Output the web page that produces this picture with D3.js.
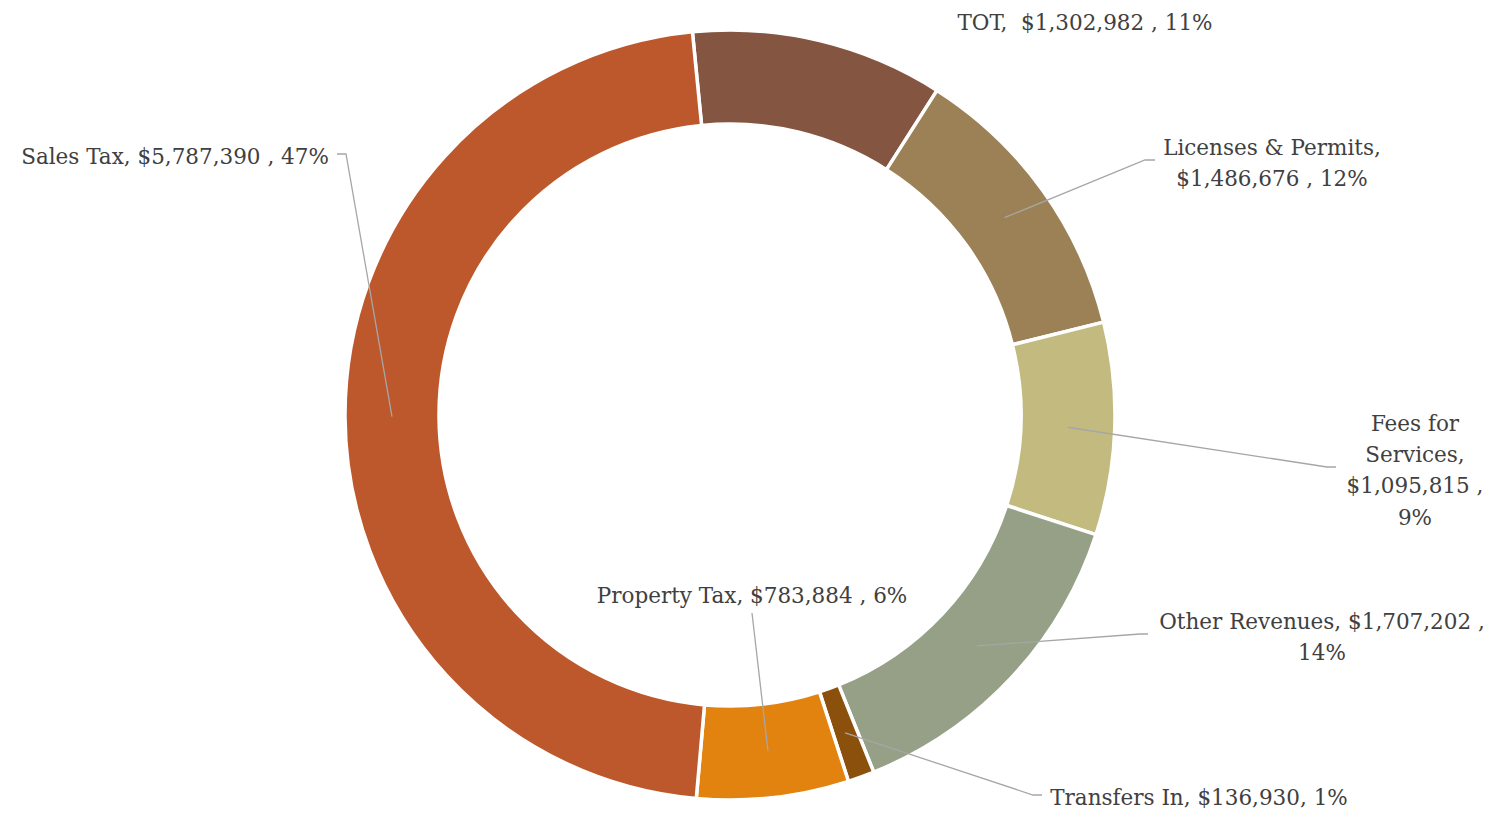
<!DOCTYPE html>
<html>
<head>
<meta charset="utf-8">
<script src="https://cdn.jsdelivr.net/npm/d3@7"></script>
<style>
  html, body { margin: 0; padding: 0; background: #fff; }
  svg { display: block; }
  text { white-space: pre; }
</style>
</head>
<body>
<svg id="chart" width="1501" height="817"></svg>
<script>
// ---- data ----
const categories = ["TOT", "Licenses & Permits", "Fees for Services", "Other Revenues", "Transfers In", "Property Tax", "Sales Tax"];
const values = [1302982, 1486676, 1095815, 1707202, 136930, 783884, 5787390];
const valueLabels = ["$1,302,982 ", "$1,486,676 ", "$1,095,815 ", "$1,707,202 ", "$136,930", "$783,884 ", "$5,787,390 "];
const percentLabels = ["11%", "12%", "9%", "14%", "1%", "6%", "47%"];
const colors = ["#845541", "#9B8155", "#C3BA80", "#95A087", "#8B500B", "#E3830F", "#BC582C"];

// label text lines (as in the original layout)
const labelLines = [
  ["TOT,  $1,302,982 , 11%"],
  ["Licenses & Permits,", "$1,486,676 , 12%"],
  ["Fees for", "Services,", "$1,095,815 ,", "9%"],
  ["Other Revenues, $1,707,202 ,", "14%"],
  ["Transfers In, $136,930, 1%"],
  ["Property Tax, $783,884 , 6%"],
  ["Sales Tax, $5,787,390 , 47%"]
];
// label layout: center x, first-line center y
const labelX = [1085, 1272, 1415, 1322, 1199, 752, 175];
const labelY = [22, 147, 423, 621, 797, 595, 156];
// leader line: elbow point and end point (null = no leader)
const leaderElbow = [null, [1145, 160], [1327, 467], [1140, 634], [1033, 795], null, [346, 154]];
const leaderEnd   = [null, [1155, 160], [1336, 467], [1148, 634], [1042, 795], [752, 613], [337, 154]];

// ---- chart ----
const cx = 730, cy = 415, outerR = 385, innerR = 291;
const startDeg = -5.6;
const svg = d3.select("#chart");
const g = svg.append("g").attr("transform", `translate(${cx},${cy})`);

const data = categories.map((c, i) => ({ name: c, value: values[i], i }));
const pie = d3.pie().value(d => d.value).sort(null)
  .startAngle(startDeg * Math.PI / 180)
  .endAngle(startDeg * Math.PI / 180 + 2 * Math.PI);
const arcs = pie(data);
const arc = d3.arc().innerRadius(innerR).outerRadius(outerR);

g.selectAll("path.slice").data(arcs).join("path")
  .attr("class", "slice")
  .attr("d", arc)
  .attr("fill", d => colors[d.data.i])
  .attr("stroke", "#fff")
  .attr("stroke-width", 3.5)
  .attr("stroke-linejoin", "miter");

// leader lines
const lines = svg.append("g");
arcs.forEach(a => {
  const i = a.data.i;
  if (!leaderEnd[i]) return;
  const c = arc.centroid(a);
  const pts = [[c[0] + cx, c[1] + cy]];
  if (leaderElbow[i]) pts.push(leaderElbow[i]);
  pts.push(leaderEnd[i]);
  lines.append("path")
    .attr("d", d3.line()(pts))
    .attr("fill", "none")
    .attr("stroke", "#A6A6A6")
    .attr("stroke-width", 1.3);
});

// labels
const fontSize = 21.5, lineH = 31.3;
const lab = svg.append("g")
  .attr("font-family", "'DejaVu Serif', serif")
  .attr("font-size", fontSize)
  .attr("fill", "#404040")
  .attr("text-anchor", "middle");
labelLines.forEach((ls, i) => {
  const t = lab.append("text");
  ls.forEach((s, k) => {
    t.append("tspan")
      .attr("x", labelX[i])
      .attr("y", labelY[i] + k * lineH)
      .attr("dy", "0.36em")
      .text(s);
  });
});
</script>
</body>
</html>
